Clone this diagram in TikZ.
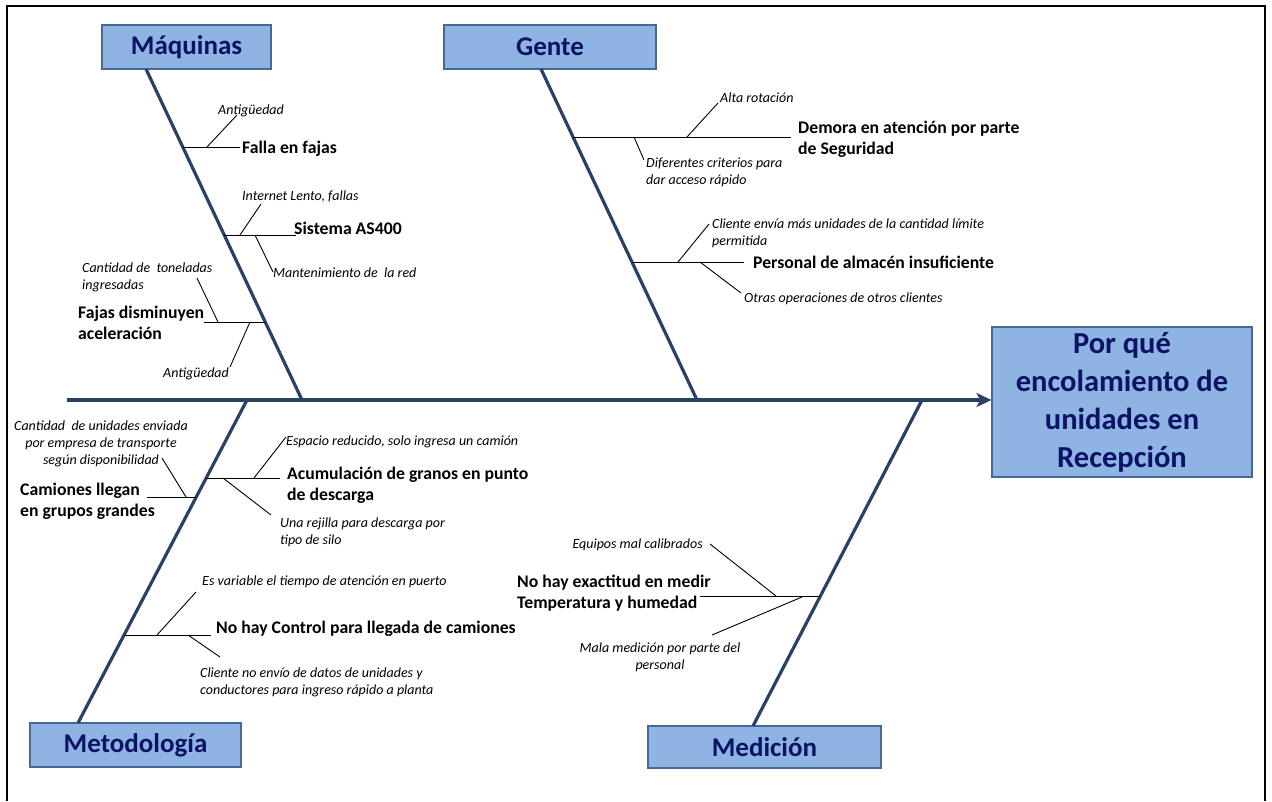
\documentclass[tikz,border=0pt]{standalone}
\usepackage{fontspec}
\setmainfont{Carlito}
\usetikzlibrary{arrows.meta}
\definecolor{boxfill}{RGB}{142,180,227}
\definecolor{boxline}{RGB}{70,105,150}
\definecolor{navy}{RGB}{12,18,100}
\definecolor{bonecol}{RGB}{40,65,100}
\tikzset{
  catbox/.style={draw=boxline, line width=1.2pt, fill=boxfill, text=navy,
    font=\fontsize{27}{32}\selectfont\bfseries, inner sep=0pt},
  effbox/.style={draw=boxline, line width=1.2pt, fill=boxfill, text=navy,
    font=\fontsize{30.5}{38}\selectfont\bfseries, inner sep=0pt, align=center},
  bonepath/.style={draw=bonecol, line width=3.2pt},
  twig/.style={draw=black, line width=0.9pt},
  lbl/.style={font=\fontsize{17.7}{21}\selectfont\bfseries, inner sep=0pt, align=left},
  sublbl/.style={font=\fontsize{14}{17}\selectfont\itshape, inner sep=0pt, align=left},
  frame/.style={draw=black, line width=2pt}
}
\begin{document}
\begin{tikzpicture}[x=1pt,y=-1pt]
\useasboundingbox (0,0) rectangle (1272,801);
% outer frame (open at bottom)
\coordinate (fbl) at (7,801);
\coordinate (ftl) at (7,6);
\coordinate (ftr) at (1265,6);
\coordinate (fbr) at (1265,801);
\draw[frame] (fbl) -- (ftl) -- (ftr) -- (fbr);

% boxes
\node[catbox, minimum width=169pt, minimum height=44pt] (maq) at (186.5,47) {Máquinas};
\node[catbox, minimum width=212pt, minimum height=44pt] (gen) at (550,47) {Gente};
\node[catbox, minimum width=211pt, minimum height=44pt] (met) at (135.5,745) {Metodología};
\node[catbox, minimum width=233pt, minimum height=42pt] (med) at (764.5,747) {Medición};
\node[effbox, minimum width=260pt, minimum height=150pt] (eff) at (1122,402)
  {Por qué\\encolamiento de\\unidades en\\Recepción};

% spine
\coordinate (tail) at (67,400);
\draw[bonepath, -{Stealth[length=15pt,width=14pt,inset=4pt]}] (tail) -- (tail -| eff.west);

% bones
\coordinate (maqtop) at (146,69);
\coordinate (maqend) at (302,400);
\coordinate (gentop) at (541,69);
\coordinate (genend) at (697,400);
\coordinate (mettop) at (78,723);
\coordinate (metend) at (247,400);
\coordinate (medtop) at (753,726);
\coordinate (medend) at (922,400);
\draw[bonepath] (maqtop) -- (maqend);
\draw[bonepath] (gentop) -- (genend);
\draw[bonepath] (mettop) -- (metend);
\draw[bonepath] (medtop) -- (medend);

% ---------- Maquinas ----------
\node[lbl, anchor=base west] (m1) at (242,153) {Falla en fajas};
\coordinate (m1a) at (183,147);
\coordinate (m1b) at (240,147);
\draw[twig] (m1a) -- (m1b);
\node[sublbl, anchor=base west] (m1s1) at (218,114) {Antigüedad};
\coordinate (m1s1a) at (207,147);
\coordinate (m1s1b) at (237,115);
\draw[twig] (m1s1a) -- (m1s1b);

\node[lbl, anchor=base west] (m2) at (294,234) {Sistema AS400};
\coordinate (m2a) at (224,235);
\coordinate (m2b) at (296,235);
\draw[twig] (m2a) -- (m2b);
\node[sublbl, anchor=base west] (m2s1) at (242,200) {Internet Lento, fallas};
\coordinate (m2s1a) at (240,235);
\coordinate (m2s1b) at (261,204);
\draw[twig] (m2s1a) -- (m2s1b);
\node[sublbl, anchor=base west] (m2s2) at (273,277) {Mantenimiento de \ la red};
\coordinate (m2s2a) at (255,235);
\coordinate (m2s2b) at (273,272);
\draw[twig] (m2s2a) -- (m2s2b);

\node[lbl, anchor=base west] (m3) at (78,339) {Fajas disminuyen\\aceleración};
\coordinate (m3a) at (204,322);
\coordinate (m3b) at (265,322);
\draw[twig] (m3a) -- (m3b);
\node[sublbl, anchor=base west] (m3s1) at (82,289) {Cantidad de \ toneladas\\ingresadas};
\coordinate (m3s1a) at (197,278);
\coordinate (m3s1b) at (218,322);
\draw[twig] (m3s1a) -- (m3s1b);
\node[sublbl, anchor=base west] (m3s2) at (163,377) {Antigüedad};
\coordinate (m3s2a) at (250,322);
\coordinate (m3s2b) at (230,367);
\draw[twig] (m3s2a) -- (m3s2b);

% ---------- Gente ----------
\node[lbl, anchor=base west] (g1) at (798,154) {Demora en atención por parte\\de Seguridad};
\coordinate (g1a) at (573,137);
\coordinate (g1b) at (791,137);
\draw[twig] (g1a) -- (g1b);
\node[sublbl, anchor=base west] (g1s1) at (720,102) {Alta rotación};
\coordinate (g1s1a) at (687,137);
\coordinate (g1s1b) at (718,103);
\draw[twig] (g1s1a) -- (g1s1b);
\node[sublbl, anchor=base west] (g1s2) at (646,184) {Diferentes criterios para\\dar acceso rápido};
\coordinate (g1s2a) at (634,137);
\coordinate (g1s2b) at (644,160);
\draw[twig] (g1s2a) -- (g1s2b);

\node[lbl, anchor=base west] (g2) at (753,268) {Personal de almacén insuficiente};
\coordinate (g2a) at (632,262);
\coordinate (g2b) at (744,262);
\draw[twig] (g2a) -- (g2b);
\node[sublbl, anchor=base west] (g2s1) at (712,245) {Cliente envía más unidades de la cantidad límite\\permitida};
\coordinate (g2s1a) at (678,262);
\coordinate (g2s1b) at (709,224);
\draw[twig] (g2s1a) -- (g2s1b);
\node[sublbl, anchor=base west] (g2s2) at (744,302) {Otras operaciones de otros clientes};
\coordinate (g2s2a) at (700,262);
\coordinate (g2s2b) at (741,293);
\draw[twig] (g2s2a) -- (g2s2b);

% ---------- Metodologia ----------
\node[lbl, anchor=base west] (t1) at (20,516) {Camiones llegan\\en grupos grandes};
\coordinate (t1a) at (147,497);
\coordinate (t1b) at (196,497);
\draw[twig] (t1a) -- (t1b);
\node[sublbl, anchor=base, align=center] (t1s1) at (101,464)
  {Cantidad \ de unidades enviada\\por empresa de transporte\\según disponibilidad};
\coordinate (t1s1a) at (162,458);
\coordinate (t1s1b) at (186,497);
\draw[twig] (t1s1a) -- (t1s1b);

\node[lbl, anchor=base west] (t2) at (287,500) {Acumulación de granos en punto\\de descarga};
\coordinate (t2a) at (206,478);
\coordinate (t2b) at (280,478);
\draw[twig] (t2a) -- (t2b);
\node[sublbl, anchor=base west] (t2s1) at (286,445) {Espacio reducido, solo ingresa un camión};
\coordinate (t2s1a) at (254,478);
\coordinate (t2s1b) at (286,437);
\draw[twig] (t2s1a) -- (t2s1b);
\node[sublbl, anchor=base west] (t2s2) at (280,544) {Una rejilla para descarga por\\tipo de silo};
\coordinate (t2s2a) at (223,478);
\coordinate (t2s2b) at (271,515);
\draw[twig] (t2s2a) -- (t2s2b);

\node[lbl, anchor=base west] (t3) at (216,633) {No hay Control para llegada de camiones};
\coordinate (t3a) at (124,635);
\coordinate (t3b) at (211,635);
\draw[twig] (t3a) -- (t3b);
\node[sublbl, anchor=base west] (t3s1) at (202,585) {Es variable el tiempo de atención en puerto};
\coordinate (t3s1a) at (157,635);
\coordinate (t3s1b) at (196,592);
\draw[twig] (t3s1a) -- (t3s1b);
\node[sublbl, anchor=base west] (t3s2) at (200,694) {Cliente no envío de datos de unidades y\\conductores para ingreso rápido a planta};
\coordinate (t3s2a) at (188,635);
\coordinate (t3s2b) at (220,657);
\draw[twig] (t3s2a) -- (t3s2b);

% ---------- Medicion ----------
\node[lbl, anchor=base west] (d1) at (517,608) {No hay exactitud en medir\\Temperatura y humedad};
\coordinate (d1a) at (700,596);
\coordinate (d1b) at (820,596);
\draw[twig] (d1a) -- (d1b);
\node[sublbl, anchor=base east] (d1s1) at (703,548) {Equipos mal calibrados};
\coordinate (d1s1a) at (710,544);
\coordinate (d1s1b) at (776,596);
\draw[twig] (d1s1a) -- (d1s1b);
\node[sublbl, anchor=base, align=center] (d1s2) at (660,669) {Mala medición por parte del\\personal};
\coordinate (d1s2a) at (802,597);
\coordinate (d1s2b) at (712,635);
\draw[twig] (d1s2a) -- (d1s2b);
\end{tikzpicture}
\end{document}
